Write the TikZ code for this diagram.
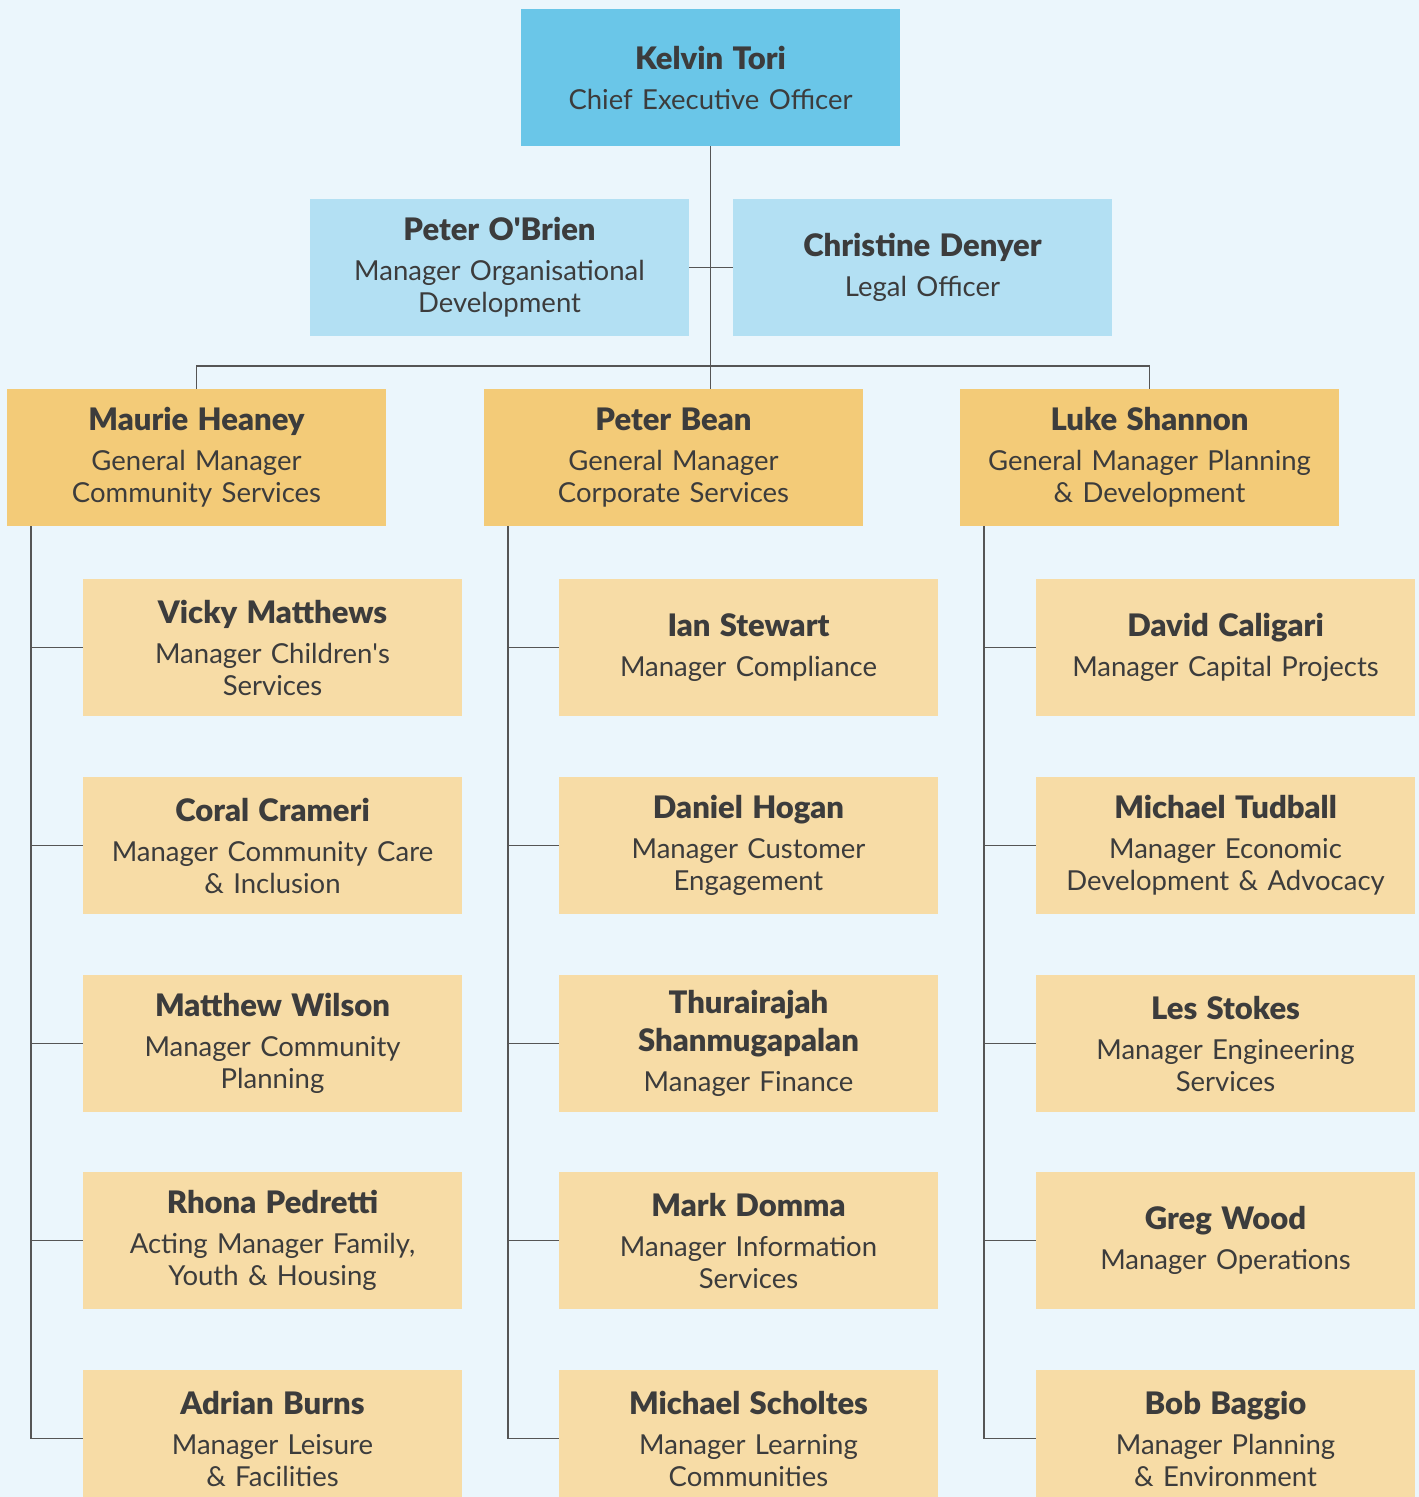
\documentclass[tikz,border=0pt]{standalone}
\usepackage{fontspec}
\setmainfont{Lato}
\newfontfamily\namefamily{Lato Black}
\usepackage{tikz}
\usetikzlibrary{positioning}

\definecolor{pagebg}{HTML}{EBF6FC}
\definecolor{ceoblue}{HTML}{6AC6E8}
\definecolor{staffblue}{HTML}{B3E0F3}
\definecolor{gmgold}{HTML}{F3CB78}
\definecolor{mgrsand}{HTML}{F7DCA6}
\definecolor{inkgrey}{HTML}{3C3C3C}
\definecolor{linkgrey}{HTML}{555555}

\newcommand\namefont{\namefamily\fontsize{31}{38}\selectfont\spaceskip=0.3em\relax}
\newcommand\rolefont{\fontsize{27.5}{32}\selectfont\spaceskip=0.34em\relax}
\newcommand\card[2]{{\namefont #1\par}\vspace{8pt}{\rolefont #2\par}}

\tikzset{
  card/.style={minimum width=379pt, minimum height=137pt, text width=370pt,
    inner xsep=4.5pt, inner ysep=0pt, align=center, text=inkgrey},
  ceocard/.style={card, fill=ceoblue},
  staffcard/.style={card, fill=staffblue},
  gmcard/.style={card, fill=gmgold},
  mgrcard/.style={card, fill=mgrsand},
  link/.style={draw=linkgrey, line width=1.4pt}
}

\begin{document}
\begin{tikzpicture}[x=1pt,y=-1pt]
                        \fill[pagebg] (0,0) rectangle (1419,1497);
                        \useasboundingbox (0,0) rectangle (1419,1497);

                        % top
                        \node[ceocard] (ceo) at (710.5,77.5) {\card{Kelvin Tori}{Chief Executive Officer}};
                        \node[staffcard] (obrien) at (499.5,267.5) {\card{Peter O\textquotesingle Brien}{Manager Organisational\\Development}};
                        \node[staffcard] (denyer) at (922.5,267.5) {\card{Christine Denyer}{Legal Officer}};

                        % general managers
                        \node[gmcard] (heaney) at (196.5,457.5) {\card{Maurie Heaney}{General Manager\\Community Services}};
                        \node[gmcard] (bean) at (673.5,457.5) {\card{Peter Bean}{General Manager\\Corporate Services}};
                        \node[gmcard] (shannon) at (1149.5,457.5) {\card{Luke Shannon}{General Manager Planning\\\& Development}};

                        % community services
                        \node[mgrcard] (matthews) at (272.5,647.5) {\card{Vicky Matthews}{Manager Children\textquotesingle s\\Services}};
                        \node[mgrcard] (crameri) at (272.5,845.5) {\card{Coral Crameri}{Manager Community Care\\\& Inclusion}};
                        \node[mgrcard] (wilson) at (272.5,1043.5) {\card{Matthew Wilson}{Manager Community\\Planning}};
                        \node[mgrcard] (pedretti) at (272.5,1240.5) {\card{Rhona Pedretti}{Acting Manager Family,\\Youth \& Housing}};
                        \node[mgrcard] (burns) at (272.5,1438.5) {\card{Adrian Burns}{Manager Leisure\\\& Facilities}};

                        % corporate services
                        \node[mgrcard] (stewart) at (748.5,647.5) {\card{Ian Stewart}{Manager Compliance}};
                        \node[mgrcard] (hogan) at (748.5,845.5) {\card{Daniel Hogan}{Manager Customer\\Engagement}};
                        \node[mgrcard] (shanmugapalan) at (748.5,1043.5) {\card{Thurairajah\\Shanmugapalan}{Manager Finance}};
                        \node[mgrcard] (domma) at (748.5,1240.5) {\card{Mark Domma}{Manager Information\\Services}};
                        \node[mgrcard] (scholtes) at (748.5,1438.5) {\card{Michael Scholtes}{Manager Learning\\Communities}};

                        % planning & development
                        \node[mgrcard] (caligari) at (1225.5,647.5) {\card{David Caligari}{Manager Capital Projects}};
                        \node[mgrcard] (tudball) at (1225.5,845.5) {\card{Michael Tudball}{Manager Economic\\Development \& Advocacy}};
                        \node[mgrcard] (stokes) at (1225.5,1043.5) {\card{Les Stokes}{Manager Engineering\\Services}};
                        \node[mgrcard] (wood) at (1225.5,1240.5) {\card{Greg Wood}{Manager Operations}};
                        \node[mgrcard] (baggio) at (1225.5,1438.5) {\card{Bob Baggio}{Manager Planning\\\& Environment}};

                        % links
                        \draw[link] (ceo.south) -- (ceo.south |- bean.north);
                        \draw[link] (obrien.east) -- (denyer.west);
                        \draw[link] (heaney.north) -- ++(0,-23) -| (shannon.north);
                        \foreach \gm/\kids in {heaney/{matthews,crameri,wilson,pedretti,burns},
                                               bean/{stewart,hogan,shanmugapalan,domma,scholtes},
                                               shannon/{caligari,tudball,stokes,wood,baggio}}
                          \foreach \kid in \kids
                            \draw[link] ([xshift=24pt]\gm.south west) |- (\kid.west);
                    \end{tikzpicture}
\end{document}
